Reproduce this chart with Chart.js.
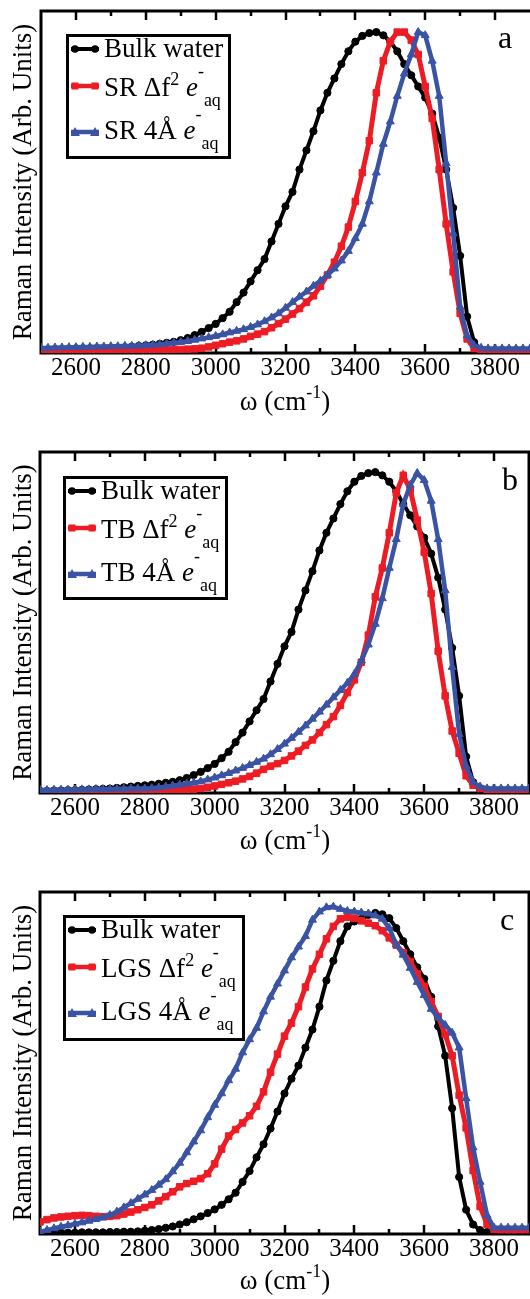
<!DOCTYPE html>
<html>
<head>
<meta charset="utf-8">
<script src="https://cdn.jsdelivr.net/npm/chart.js@4.4.1/dist/chart.umd.min.js"></script>
<style>
  body { margin: 0; width: 530px; height: 1299px; overflow: hidden; background: #fff; position: relative;
         font-family: 'Liberation Serif', serif; color: #000; }
  canvas { position: absolute; left: 0; }
  .legend { position: absolute; border: 3px solid #000; box-sizing: border-box; background: #fff; }
  .row { position: absolute; left: 35px; font-size: 27px; line-height: 27px; white-space: nowrap; }
  .row sup, .row sub, .xt sup { line-height: 0; font-size: 18px; }
  .s2 { vertical-align: 11px; }
  .sm { vertical-align: 19px; }
  .row sub { vertical-align: -10px; }
  .swatch { position: absolute; left: 2px; }
  .letter { position: absolute; font-size: 32px; line-height: 32px; }
  .xt { position: absolute; left: 185px; width: 200px; text-align: center; font-size: 27px; line-height: 27px; white-space: nowrap; }
  .xt sup { vertical-align: 12px; }
</style>
</head>
<body>
<canvas id="chart_a" width="530" height="433" style="top:0px"></canvas>
<canvas id="chart_b" width="530" height="433" style="top:433px"></canvas>
<canvas id="chart_c" width="530" height="433" style="top:866px"></canvas>
<script>
const wavenumber = [
  2500, 2520, 2540, 2560, 2580, 2600, 2620, 2640, 2660, 2680,
  2700, 2720, 2740, 2760, 2780, 2800, 2820, 2840, 2860, 2880,
  2900, 2920, 2940, 2960, 2980, 3000, 3020, 3040, 3060, 3080,
  3100, 3120, 3140, 3160, 3180, 3200, 3220, 3240, 3260, 3280,
  3300, 3320, 3340, 3360, 3380, 3400, 3420, 3440, 3460, 3480,
  3500, 3520, 3540, 3560, 3580, 3600, 3620, 3640, 3660, 3680,
  3700, 3720, 3740, 3760, 3780, 3800, 3820, 3840, 3860, 3880,
  3900
];
const tickLabels = [2600, 2800, 3000, 3200, 3400, 3600, 3800];

// bulk water, shared by panels a and b
const bulkWater = [
  0.003, 0.003, 0.004, 0.004, 0.005, 0.005, 0.006, 0.007, 0.008, 0.009,
  0.010, 0.012, 0.014, 0.016, 0.018, 0.020, 0.022, 0.025, 0.028, 0.031,
  0.036, 0.043, 0.052, 0.062, 0.074, 0.087, 0.105, 0.125, 0.155, 0.185,
  0.220, 0.255, 0.290, 0.345, 0.400, 0.455, 0.500, 0.570, 0.630, 0.690,
  0.755, 0.810, 0.855, 0.900, 0.940, 0.970, 0.988, 0.997, 1.000, 0.990,
  0.970, 0.940, 0.900, 0.865, 0.830, 0.795, 0.745, 0.670, 0.570, 0.450,
  0.300, 0.110, 0.030, 0.005, 0, 0, 0, 0, 0, 0,
  0
];
const srDf2 = [
  0, 0, 0, 0, 0.001, 0.001, 0.001, 0.001, 0.001, 0.002,
  0.002, 0.002, 0.002, 0.003, 0.003, 0.003, 0.004, 0.004, 0.005, 0.006,
  0.007, 0.008, 0.009, 0.011, 0.015, 0.020, 0.025, 0.030, 0.034, 0.040,
  0.048, 0.055, 0.063, 0.075, 0.088, 0.102, 0.118, 0.135, 0.155, 0.175,
  0.205, 0.240, 0.280, 0.330, 0.390, 0.470, 0.560, 0.660, 0.810, 0.910,
  0.970, 1.000, 1.000, 0.975, 0.930, 0.830, 0.730, 0.570, 0.400, 0.250,
  0.120, 0.040, 0.010, 0.005, 0.003, 0.003, 0.003, 0.003, 0.003, 0.003,
  0.003
];
const sr4A = [
  0.012, 0.012, 0.013, 0.013, 0.014, 0.014, 0.015, 0.015, 0.016, 0.016,
  0.017, 0.017, 0.018, 0.018, 0.019, 0.020, 0.021, 0.023, 0.025, 0.028,
  0.030, 0.033, 0.037, 0.041, 0.045, 0.049, 0.054, 0.060, 0.065, 0.070,
  0.077, 0.085, 0.095, 0.107, 0.120, 0.137, 0.155, 0.172, 0.188, 0.206,
  0.222, 0.240, 0.260, 0.285, 0.315, 0.355, 0.400, 0.470, 0.560, 0.650,
  0.720, 0.800, 0.870, 0.930, 1.000, 0.990, 0.910, 0.800, 0.590, 0.370,
  0.140, 0.050, 0.020, 0.012, 0.010, 0.010, 0.010, 0.010, 0.010, 0.010,
  0.010
];
const tbDf2 = [
  0, 0, 0, 0, 0.001, 0.001, 0.001, 0.001, 0.001, 0.002,
  0.002, 0.002, 0.002, 0.003, 0.003, 0.003, 0.003, 0.004, 0.004, 0.005,
  0.005, 0.006, 0.008, 0.010, 0.014, 0.018, 0.023, 0.028, 0.033, 0.040,
  0.048, 0.058, 0.070, 0.080, 0.088, 0.098, 0.112, 0.127, 0.145, 0.162,
  0.185, 0.210, 0.235, 0.270, 0.310, 0.350, 0.405, 0.490, 0.610, 0.700,
  0.810, 0.935, 0.990, 0.945, 0.850, 0.750, 0.620, 0.440, 0.300, 0.190,
  0.120, 0.050, 0.020, 0.010, 0.005, 0.004, 0.004, 0.004, 0.004, 0.004,
  0.004
];
const tb4A = [
  0.005, 0.005, 0.006, 0.006, 0.006, 0.007, 0.007, 0.007, 0.008, 0.008,
  0.008, 0.009, 0.009, 0.010, 0.010, 0.010, 0.011, 0.013, 0.016, 0.019,
  0.022, 0.025, 0.028, 0.032, 0.038, 0.044, 0.051, 0.058, 0.066, 0.074,
  0.083, 0.093, 0.103, 0.117, 0.133, 0.150, 0.168, 0.187, 0.207, 0.228,
  0.250, 0.272, 0.295, 0.318, 0.340, 0.368, 0.410, 0.460, 0.525, 0.605,
  0.700, 0.790, 0.900, 0.960, 0.997, 0.975, 0.910, 0.790, 0.630, 0.390,
  0.180, 0.080, 0.030, 0.016, 0.010, 0.010, 0.010, 0.010, 0.010, 0.010,
  0.010
];
// panel c is normalised to the LGS 4Å peak
const bulkWaterC = [
  0, 0, 0, 0, 0, 0, 0.001, 0.001, 0.001, 0.001,
  0.002, 0.002, 0.003, 0.003, 0.004, 0.006, 0.008, 0.011, 0.015, 0.019,
  0.025, 0.032, 0.041, 0.050, 0.060, 0.071, 0.085, 0.102, 0.122, 0.155,
  0.188, 0.230, 0.270, 0.318, 0.370, 0.425, 0.470, 0.510, 0.565, 0.620,
  0.690, 0.770, 0.830, 0.890, 0.935, 0.950, 0.958, 0.970, 0.976, 0.972,
  0.960, 0.930, 0.890, 0.850, 0.810, 0.775, 0.720, 0.630, 0.540, 0.380,
  0.170, 0.070, 0.025, 0.008, 0.002, 0, 0, 0, 0, 0,
  0
];
const lgsDf2 = [
  0.033, 0.040, 0.045, 0.048, 0.050, 0.052, 0.053, 0.052, 0.050, 0.049,
  0.050, 0.052, 0.057, 0.063, 0.070, 0.077, 0.085, 0.097, 0.110, 0.125,
  0.140, 0.150, 0.157, 0.165, 0.180, 0.210, 0.255, 0.295, 0.315, 0.335,
  0.357, 0.386, 0.430, 0.490, 0.545, 0.600, 0.640, 0.690, 0.750, 0.805,
  0.850, 0.897, 0.935, 0.958, 0.963, 0.960, 0.952, 0.945, 0.937, 0.922,
  0.900, 0.878, 0.855, 0.828, 0.790, 0.752, 0.705, 0.660, 0.605, 0.540,
  0.420, 0.320, 0.190, 0.080, 0.025, 0.010, 0.009, 0.009, 0.009, 0.009,
  0.009
];
const lgs4A = [
  0.003, 0.008, 0.013, 0.018, 0.022, 0.027, 0.031, 0.036, 0.041, 0.046,
  0.054, 0.064, 0.077, 0.090, 0.103, 0.116, 0.130, 0.146, 0.163, 0.187,
  0.213, 0.245, 0.278, 0.312, 0.352, 0.390, 0.425, 0.465, 0.500, 0.550,
  0.590, 0.625, 0.675, 0.720, 0.760, 0.800, 0.840, 0.873, 0.905, 0.955,
  0.980, 0.993, 0.995, 0.988, 0.982, 0.980, 0.977, 0.974, 0.968, 0.958,
  0.930, 0.880, 0.848, 0.808, 0.765, 0.725, 0.683, 0.656, 0.634, 0.610,
  0.565, 0.410, 0.260, 0.155, 0.053, 0.015, 0.015, 0.015, 0.015, 0.015,
  0.015
];

const FONT = '"Liberation Serif", "Times New Roman", Times, serif';
Chart.defaults.font.family = FONT;
Chart.defaults.color = '#000';

const looks = [
  { color: '#000000', pointStyle: 'circle',   radius: 3.6, width: 4 },
  { color: '#ED1C24', pointStyle: 'rect',     radius: 4.6, width: 5 },
  { color: '#3A53A4', pointStyle: 'triangle', radius: 4.6, width: 4.5 },
];

const panels = [
  { id: 'a', area: { l: 41, t: 11, b: 353, r: 530 }, yMax: 1.066, right: false,
    sets: [bulkWater, srDf2, sr4A], prefix: 'SR',
    legend: { x: 66, y: 34, w: 165, h: 125 }, letter: { x: 498, base: 48 }, titleBase: 411 },
  { id: 'b', area: { l: 40, t: 19, b: 360, r: 529 }, yMax: 1.063, right: true,
    sets: [bulkWater, tbDf2, tb4A], prefix: 'TB',
    legend: { x: 63, y: 476, w: 165, h: 124 }, letter: { x: 502, base: 490 }, titleBase: 850 },
  { id: 'c', area: { l: 40, t: 26, b: 368, r: 529 }, yMax: 1.040, right: true,
    sets: [bulkWaterC, lgsDf2, lgs4A], prefix: 'LGS',
    legend: { x: 63, y: 915, w: 182, h: 126 }, letter: { x: 500, base: 930 }, titleBase: 1290 },
];

// box round the plot, with inward ticks on top and bottom
const frame = {
  id: 'frame',
  beforeDatasetsDraw(chart, args, opts) {
    const { ctx, chartArea: a } = chart;
    const x = chart.scales.x;
    ctx.save();
    ctx.strokeStyle = '#000';
    ctx.lineWidth = 3;
    ctx.lineCap = 'square';
    ctx.beginPath();
    ctx.moveTo(a.left, a.bottom); ctx.lineTo(a.left, a.top); ctx.lineTo(a.right, a.top);
    if (opts.right) ctx.lineTo(a.right, a.bottom); else ctx.moveTo(a.right, a.bottom);
    ctx.lineTo(a.left, a.bottom);
    ctx.stroke();
    ctx.lineWidth = 2.5;
    ctx.lineCap = 'butt';
    ctx.beginPath();
    x.ticks.forEach(t => {
      if (t.value <= x.min || t.value >= x.max) return;
      const px = Math.round(x.getPixelForValue(t.value));
      const len = t.value % 200 === 0 ? 9 : 5;
      ctx.moveTo(px, a.bottom); ctx.lineTo(px, a.bottom - len);
      ctx.moveTo(px, a.top);    ctx.lineTo(px, a.top + len);
    });
    ctx.stroke();
    ctx.restore();
  }
};

function makeChart(p) {
  const canvas = document.getElementById('chart_' + p.id);
  const W = canvas.width, H = canvas.height;
  return new Chart(canvas, {
    type: 'line',
    data: {
      datasets: p.sets.map((vals, i) => ({
        data: wavenumber.map((w, j) => ({ x: w, y: vals[j] })),
        borderColor: looks[i].color, backgroundColor: looks[i].color,
        borderWidth: looks[i].width, tension: 0, fill: false,
        pointStyle: looks[i].pointStyle, pointRadius: looks[i].radius,
        pointBackgroundColor: looks[i].color, pointBorderColor: looks[i].color, pointBorderWidth: 1,
        order: 2 - i,
      }))
    },
    options: {
      responsive: false, animation: false, events: [],
      layout: { autoPadding: false, padding: { top: p.area.t, right: W - p.area.r, bottom: 0, left: 0 } },
      plugins: { legend: { display: false }, tooltip: { enabled: false }, frame: { right: p.right } },
      scales: {
        x: {
          type: 'linear', min: 2500, max: 3900,
          afterFit: s => { s.height = H - p.area.b; },
          grid: { display: false, drawTicks: false, tickLength: 0 },
          border: { display: false },
          ticks: {
            stepSize: 100, autoSkip: false, maxRotation: 0, minRotation: 0, padding: 0,
            color: '#000', font: { family: FONT, size: 25 },
            callback: v => tickLabels.includes(v) ? String(v) : ''
          }
        },
        y: {
          min: -0.004, max: p.yMax,
          afterFit: s => { s.width = p.area.l; },
          grid: { display: false, drawTicks: false },
          border: { display: false },
          ticks: { display: false },
          title: {
            display: true, text: 'Raman Intensity (Arb. Units)', color: '#000',
            font: { family: FONT, size: 27 }, padding: { top: 8, bottom: 0 }
          }
        }
      }
    },
    plugins: [frame]
  });
}

function swatch(lk) {
  const y = 8;
  let marks = '';
  [4, 24].forEach(cx => {
    if (lk.pointStyle === 'circle') marks += `<circle cx="${cx}" cy="${y}" r="3.8" fill="${lk.color}"/>`;
    else if (lk.pointStyle === 'rect') marks += `<rect x="${cx - 3.5}" y="${y - 3.5}" width="7" height="7" fill="${lk.color}"/>`;
    else marks += `<polygon points="${cx - 5},${y + 4} ${cx + 5},${y + 4} ${cx},${y - 5}" fill="${lk.color}"/>`;
  });
  return `<svg width="28" height="16"><line x1="0" y1="${y}" x2="28" y2="${y}" stroke="${lk.color}" stroke-width="${Math.min(lk.width, 4.5)}"/>${marks}</svg>`;
}

const rowBase = [21, 57, 100];   // text baselines inside the legend box
const rowMark = [12, 49, 95];    // swatch centres inside the legend box
const ASC = 0.8375;              // baseline offset for line-height 1 in Liberation Serif

const charts = [];
panels.forEach(p => {
  charts.push(makeChart(p));
  const names = [
    'Bulk water',
    p.prefix + ' Δf<sup class="s2">2</sup> <i>e</i><sup class="sm">-</sup><sub>aq</sub>',
    p.prefix + ' 4Å <i>e</i><sup class="sm">-</sup><sub>aq</sub>'
  ];
  const box = document.createElement('div');
  box.className = 'legend';
  Object.assign(box.style, { left: p.legend.x + 'px', top: p.legend.y + 'px', width: p.legend.w + 'px', height: p.legend.h + 'px' });
  box.innerHTML = names.map((n, i) =>
    `<div class="swatch" style="top:${rowMark[i] - 8}px">${swatch(looks[i])}</div>` +
    `<div class="row" style="top:${(rowBase[i] - ASC * 27).toFixed(1)}px">${n}</div>`).join('');
  document.body.appendChild(box);

  const letter = document.createElement('div');
  letter.className = 'letter';
  letter.textContent = p.id;
  Object.assign(letter.style, { left: p.letter.x + 'px', top: (p.letter.base - ASC * 32).toFixed(1) + 'px' });
  document.body.appendChild(letter);

  const xt = document.createElement('div');
  xt.className = 'xt';
  xt.innerHTML = 'ω (cm<sup>-1</sup>)';
  xt.style.top = (p.titleBase - ASC * 27).toFixed(1) + 'px';
  document.body.appendChild(xt);
});

// redraw once the serif face is surely available to the canvas
if (document.fonts) {
  Promise.all([document.fonts.load('25px "Liberation Serif"'), document.fonts.ready])
    .then(() => charts.forEach(c => c.update('none')));
}
</script>
</body>
</html>
